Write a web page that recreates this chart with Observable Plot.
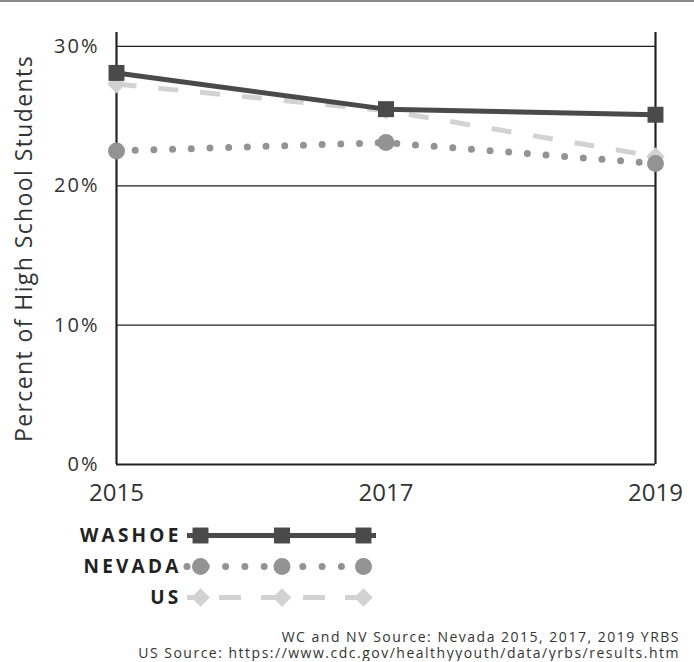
<!DOCTYPE html>
<html><head><meta charset="utf-8">
<script src="https://cdn.jsdelivr.net/npm/d3@7"></script>
<script src="https://cdn.jsdelivr.net/npm/@observablehq/plot@0.6"></script>
<style>
html,body{margin:0;padding:0;background:#fff}
body{font-family:"Open Sans",sans-serif;color:#333;width:694px}
#topbar{height:2px;background:#8c8c8c}
#chart svg,#legend svg{display:block}
#caption{text-align:right;padding-right:14px;font-size:14px;line-height:16px;letter-spacing:1.5px;color:#333;margin-top:9px}
</style></head><body>
<div id="topbar"></div>
<div id="chart"></div>
<div id="legend"></div>
<div id="caption">WC and NV Source: Nevada 2015, 2017, 2019 YRBS<br>US Source: https://www.cdc.gov/healthyyouth/data/yrbs/results.htm</div>
<script>
const years = [2015, 2017, 2019];
const seriesNames = ["WASHOE", "NEVADA", "US"];
const washoe = [28.1, 25.5, 25.1];
const nevada = [22.5, 23.1, 21.6];
const us = [27.3, 25.4, 22.1];
const yTicks = [0, 10, 20, 30];
const yLabel = "Percent of High School Students";

const styles = {
  WASHOE: {color: "#4a4a4a", width: 5, dash: null, symbol: "square", r: 9},
  NEVADA: {color: "#939393", width: 7, dash: "0 18.7", symbol: "circle", r: 8.5},
  US: {color: "#d2d2d2", width: 5, dash: "20 22", symbol: "diamond2", r: 8.4}
};

const valuesBy = {WASHOE: washoe, NEVADA: nevada, US: us};
const rows = seriesNames.flatMap(s => years.map((y, i) => ({series: s, year: y, value: valuesBy[s][i]})));

const drawOrder = ["US", "NEVADA", "WASHOE"];
const seriesMarks = drawOrder.flatMap(s => {
  const st = styles[s];
  const d = rows.filter(r => r.series === s);
  return [
    Plot.line(d, {x: "year", y: "value", stroke: st.color, strokeWidth: st.width,
      strokeDasharray: st.dash, strokeLinecap: s === "NEVADA" ? "round" : "butt"}),
    Plot.dot(d, {x: "year", y: "value", fill: st.color, symbol: st.symbol, r: st.r, stroke: "none"})
  ];
});

const chart = Plot.plot({
  width: 694, height: 508,
  marginLeft: 116, marginRight: 39, marginTop: 30, marginBottom: 46,
  style: {fontFamily: "'Open Sans', sans-serif", color: "#333", background: "#fff"},
  x: {domain: [years[0], years[years.length - 1]]},
  y: {domain: [0, 31]},
  marks: [
    Plot.ruleY(yTicks.filter(t => t > 0), {stroke: "#222", strokeWidth: 1.2}),
    Plot.ruleX([years[0], years[years.length - 1]], {y1: 0, y2: 31, stroke: "#222", strokeWidth: 2.2}),
    Plot.ruleY([0], {stroke: "#222", strokeWidth: 2.2}),
    Plot.axisY({ticks: yTicks, tickFormat: d => d + "%", tickSize: 0, tickPadding: 17, fontSize: 20, label: null}),
    Plot.text([yLabel], {frameAnchor: "left", textAnchor: "middle", rotate: -90, dx: -92, fontSize: 23, fill: "#333", text: d => d}),
    Plot.axisX({ticks: years, tickFormat: d => String(d), tickSize: 0, tickPadding: 19, fontSize: 24, label: null}),
    ...seriesMarks
  ]
});
chart.querySelectorAll("[aria-label='y-axis tick label'] text").forEach(t => t.style.letterSpacing = "2px");
chart.querySelectorAll("[aria-label='text'] text").forEach(t => t.style.letterSpacing = "1.4px");
document.getElementById("chart").append(chart);

// legend
const legendPos = [0, 1, 2];
const legendRows = seriesNames.flatMap(s => legendPos.map(p => ({series: s, pos: p})));
const legendMarks = seriesNames.flatMap(s => {
  const st = styles[s];
  const d = legendRows.filter(r => r.series === s);
  const dash = s === "NEVADA" ? "0 19.3" : s === "US" ? "22 20" : null;
  return [
    Plot.ruleY([s], {x1: legendPos[0], x2: legendPos[legendPos.length - 1], insetLeft: -13, insetRight: -13,
      stroke: st.color, strokeWidth: s === "NEVADA" ? 7 : 5, strokeDasharray: dash,
      strokeDashoffset: s === "US" ? 10 : 0,
      strokeLinecap: s === "NEVADA" ? "round" : "butt"}),
    Plot.dot(d, {x: "pos", y: "series", fill: st.color, symbol: st.symbol, r: st.r, stroke: "none"})
  ];
});
const legend = Plot.plot({
  width: 694, height: 110,
  marginLeft: 200, marginRight: 331, marginTop: 24, marginBottom: 23,
  style: {fontFamily: "'Open Sans', sans-serif", background: "#fff"},
  x: {domain: [0, 2], axis: null},
  y: {type: "point", domain: seriesNames, padding: 0, axis: null},
  marks: [
    ...legendMarks,
    Plot.text(seriesNames, {x: legendPos[0], y: d => d, text: d => d, textAnchor: "end", dx: -19,
      fontSize: 19, fontWeight: "bold", fill: "#222"})
  ]
});
legend.querySelectorAll("text").forEach(t => t.style.letterSpacing = "3.2px");
document.getElementById("legend").append(legend);
</script>
</body></html>
